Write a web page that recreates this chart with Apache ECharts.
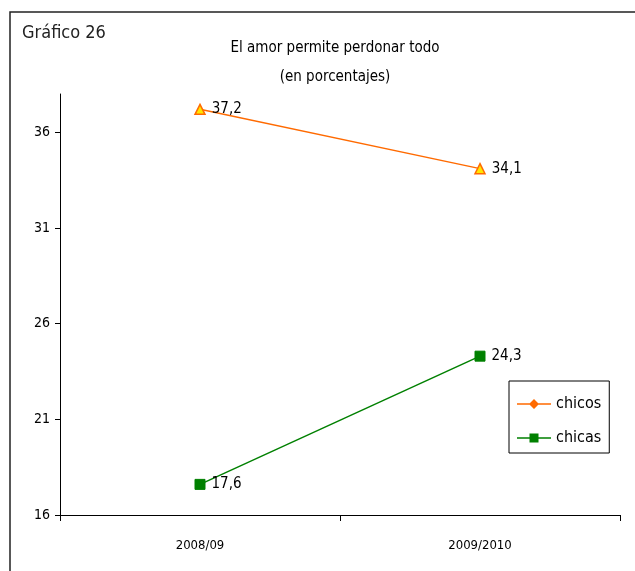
<!DOCTYPE html>
<html>
<head>
<meta charset="utf-8">
<script src="https://cdn.jsdelivr.net/npm/echarts@6/dist/echarts.min.js"></script>
<style>
  html, body { margin: 0; padding: 0; background: #fff; }
  #chart { width: 635px; height: 571px; }
</style>
</head>
<body>
<div id="chart"></div>
<script>
var categories = ['2008/09', '2009/2010'];
var chicos = [37.2, 34.1];
var chicas = [17.6, 24.3];
var yTicks = [16, 21, 26, 31, 36];

var font = "'DejaVu Sans Condensed', 'Liberation Sans Narrow', 'Liberation Sans', sans-serif";
var orange = '#FF6A00';
var green = '#008000';

var dom = document.getElementById('chart');
var myChart = echarts.init(dom, null, { renderer: 'canvas' });

function comma(p) {
  return String(p.value).replace('.', ',');
}

// legend icons: a thin line with the marker in the middle
var iconChicos = 'path://M0,6.3L34,6.3L34,7.7L0,7.7Z M17,2L22,7L17,12L12,7Z';
var iconChicas = 'path://M0,6.3L34,6.3L34,7.7L0,7.7Z M12.5,2.5L21.5,2.5L21.5,11.5L12.5,11.5Z';

var option = {
  animation: false,
  backgroundColor: '#fff',
  graphic: [
    {
      type: 'rect',
      shape: { x: 10, y: 12, width: 700, height: 700 },
      style: { fill: 'none', stroke: '#222', lineWidth: 1.5 },
      silent: true
    }
  ],
  title: [
    {
      text: 'Gráfico 26',
      left: 17,
      top: 19,
      textStyle: { fontFamily: font, fontSize: 18, fontWeight: 'normal', color: '#222' }
    },
    {
      text: 'El amor permite perdonar todo',
      left: 330,
      top: 36,
      textAlign: 'center',
      textStyle: { fontFamily: font, fontSize: 15, fontWeight: 'normal', color: '#000' }
    },
    {
      text: '(en porcentajes)',
      left: 330,
      top: 65,
      textAlign: 'center',
      textStyle: { fontFamily: font, fontSize: 15, fontWeight: 'normal', color: '#000' }
    }
  ],
  legend: {
    orient: 'vertical',
    left: 509,
    top: 381,
    padding: [15, 8, 7, 8],
    itemGap: 18,
    itemWidth: 34,
    itemHeight: 14,
    borderColor: '#000',
    borderWidth: 1,
    textStyle: { fontFamily: font, fontSize: 16, color: '#000' },
    data: [
      { name: 'chicos', icon: iconChicos, itemStyle: { color: orange, borderWidth: 0 } },
      { name: 'chicas', icon: iconChicas, itemStyle: { color: green, borderWidth: 0 } }
    ]
  },
  grid: { left: 60, right: 15, top: 94, bottom: 56 },
  xAxis: {
    type: 'category',
    data: categories,
    boundaryGap: true,
    axisLine: { lineStyle: { color: '#000', width: 1 } },
    axisTick: { show: true, length: 6, lineStyle: { color: '#000' } },
    axisLabel: { color: '#000', fontFamily: font, fontSize: 13, margin: 24 }
  },
  yAxis: {
    type: 'value',
    min: 16,
    max: 38,
    splitLine: { show: false },
    axisLine: { show: true, lineStyle: { color: '#000', width: 1 } },
    axisTick: { show: true, length: 5, customValues: yTicks, lineStyle: { color: '#000' } },
    axisLabel: { color: '#000', fontFamily: font, fontSize: 14, margin: 10, customValues: yTicks }
  },
  series: [
    {
      name: 'chicos',
      type: 'line',
      data: chicos,
      symbol: 'triangle',
      symbolSize: 10,
      lineStyle: { color: orange, width: 1.5 },
      itemStyle: { color: '#FFE600', borderColor: orange, borderWidth: 1.5 },
      label: {
        show: true,
        position: 'right',
        distance: 6,
        formatter: comma,
        color: '#000',
        fontFamily: font,
        fontSize: 15
      }
    },
    {
      name: 'chicas',
      type: 'line',
      data: chicas,
      symbol: 'rect',
      symbolSize: 10,
      lineStyle: { color: green, width: 1.5 },
      itemStyle: { color: green, borderColor: green },
      label: {
        show: true,
        position: 'right',
        distance: 6,
        formatter: comma,
        color: '#000',
        fontFamily: font,
        fontSize: 15
      }
    }
  ]
};

myChart.setOption(option);
window.addEventListener('resize', myChart.resize);
</script>
</body>
</html>
